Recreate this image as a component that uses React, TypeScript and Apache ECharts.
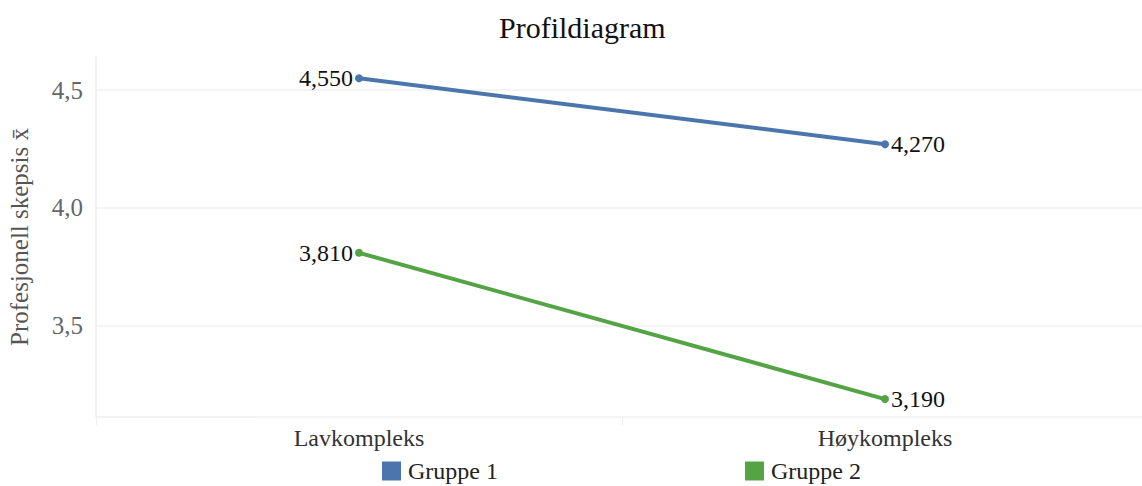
import React, { useEffect, useRef } from "react";
import * as echarts from "echarts";

const categories = ["Lavkompleks", "Høykompleks"];
const gruppe1 = [4.55, 4.27];
const gruppe2 = [3.81, 3.19];
const yTicks = [3.5, 4.0, 4.5];

const FONT = "'Liberation Serif', 'Times New Roman', serif";

const fmt = (v: number, d: number) => v.toFixed(d).replace(".", ",");

function makeSeries(name: string, values: number[], color: string) {
  return {
    name,
    type: "line",
    data: values.map((v, i) => ({
      value: v,
      label: {
        show: true,
        position: i === 0 ? "left" : "right",
        distance: 2,
        formatter: () => fmt(v, 3),
        fontFamily: FONT,
        fontSize: 24,
        color: "#111",
      },
    })),
    symbol: "circle",
    symbolSize: 8,
    lineStyle: { width: 4, color },
    itemStyle: { color },
    z: 3,
  };
}

export default function App() {
  const ref = useRef<HTMLDivElement>(null);

  useEffect(() => {
    if (!ref.current) return;
    const chart = echarts.init(ref.current, undefined, { renderer: "svg" });
    chart.setOption({
      animation: false,
      backgroundColor: "#ffffff",
      title: {
        text: "Profildiagram",
        left: 494,
        top: 7,
        textStyle: { fontFamily: FONT, fontSize: 30, fontWeight: "normal", color: "#111" },
      },
      legend: {
        bottom: -2,
        left: 377,
        itemGap: 247,
        itemWidth: 19,
        itemHeight: 19,
        icon: "rect",
        textStyle: { fontFamily: FONT, fontSize: 24, color: "#222", padding: [0, 0, 0, 2] },
        data: ["Gruppe 1", "Gruppe 2"],
      },
      grid: { left: 96, right: -6, top: 57, bottom: 69, outerBoundsMode: "none", containLabel: false },
      xAxis: {
        type: "category",
        data: categories,
        boundaryGap: true,
        axisLine: { show: true, lineStyle: { color: "#f0f0f0", width: 1.5 } },
        axisTick: { show: true, length: 8, lineStyle: { color: "#eeeeee" } },
        axisLabel: { fontFamily: FONT, fontSize: 24, color: "#333", margin: 9 },
        splitLine: { show: false },
      },
      yAxis: {
        type: "value",
        min: 3.114,
        max: 4.64,
        name: "Profesjonell skepsis x̄",
        nameLocation: "middle",
        nameGap: 64,
        nameTextStyle: { fontFamily: FONT, fontSize: 25, color: "#555" },
        axisLine: { show: true, lineStyle: { color: "#eeeeee", width: 1.5 } },
        axisTick: { show: false, customValues: yTicks },
        axisLabel: {
          customValues: yTicks,
          fontFamily: FONT,
          fontSize: 25,
          color: "#666",
          margin: 13,
          formatter: (v: number) => fmt(v, 1),
        },
        splitLine: { show: true, lineStyle: { color: "#f0f0f0", width: 1.5 } },
      },
      series: [
        makeSeries("Gruppe 1", gruppe1, "#4a76ad"),
        makeSeries("Gruppe 2", gruppe2, "#54a445"),
      ],
    });
    return () => chart.dispose();
  }, []);

  return (
    <div
      ref={ref}
      style={{ position: "fixed", left: 0, top: 0, width: 1142, height: 486 }}
    />
  );
}
